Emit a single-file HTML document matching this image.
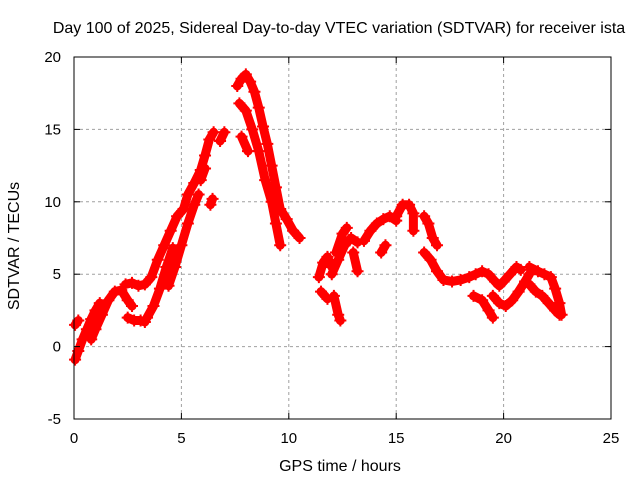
<!DOCTYPE html>
<html><head><meta charset="utf-8"><style>
body{margin:0;background:#fff}
svg{display:block;font-family:"Liberation Sans",sans-serif}
</style></head><body>
<svg id="chart" width="640" height="480">
<rect width="640" height="480" fill="#fff"/>
<text x="339" y="33" text-anchor="middle" font-size="16">Day 100 of 2025, Sidereal Day-to-day VTEC variation (SDTVAR) for receiver ista</text>
<text x="340" y="471" text-anchor="middle" font-size="16">GPS time / hours</text>
<text transform="translate(19,246) rotate(-90)" text-anchor="middle" font-size="16">SDTVAR / TECUs</text>
<g id="grid"></g><g id="marks"></g>
<rect x="74" y="57" width="537" height="362" fill="none" stroke="#000" stroke-width="1"/>
<g id="ticks"></g>
</svg>
<script>
const xTicks=[0,5,10,15,20,25];
const yTicks=[-5,0,5,10,15,20];
const tracks=[
[[0.05,-0.9],[0.2,-0.3],[0.4,0.5],[0.6,1.2],[0.8,1.9],[1.0,2.5],[1.2,3.0]],
[[0.05,1.5],[0.2,1.8]],
[[0.8,0.5],[1.0,1.2],[1.3,2.2],[1.6,3.2],[1.9,3.8],[2.2,3.9],[2.5,3.2],[2.7,2.8]],
[[2.4,4.3],[2.7,4.4],[3.0,4.2],[3.3,4.3],[3.6,4.8],[3.9,6.0],[4.2,7.0],[4.5,8.0],[4.8,9.0],[5.1,9.5],[5.3,10.5],[5.6,11.3],[5.9,12.2],[6.1,13.2],[6.3,14.3],[6.5,14.8]],
[[6.8,14.2],[7.0,14.8]],
[[2.5,2.0],[2.8,1.8],[3.1,1.8],[3.3,1.7]],
[[3.4,2.0],[3.7,2.8],[4.0,4.0],[4.3,5.5],[4.6,6.8]],
[[4.4,4.2],[4.7,5.5],[5.0,7.0],[5.3,8.5],[5.6,9.8],[5.8,10.5]],
[[5.9,11.5],[6.1,12.3]],
[[6.35,9.8],[6.45,10.2]],
[[7.6,18.0],[7.8,18.5],[8.0,18.8],[8.2,18.3],[8.4,17.6],[8.6,16.5],[8.8,15.2],[9.0,14.0],[9.2,12.5],[9.4,11.0],[9.6,9.5],[9.9,8.8],[10.2,8.0],[10.5,7.5]],
[[7.7,16.8],[8.0,16.3],[8.3,15.0],[8.6,13.5],[8.9,11.5],[9.2,10.0],[9.4,8.5],[9.6,7.0]],
[[7.8,14.5],[8.1,13.5]],
[[11.4,4.8],[11.6,5.8],[11.8,6.2],[12.0,5.5]],
[[11.5,3.8],[11.8,3.3]],
[[12.1,3.5],[12.3,2.2],[12.4,1.8]],
[[12.0,5.0],[12.3,6.0],[12.6,7.0],[12.9,7.5],[13.2,7.2]],
[[12.2,6.5],[12.5,7.8],[12.7,8.2]],
[[13.0,6.5],[13.2,5.2]],
[[13.5,7.3],[13.8,8.0],[14.1,8.5],[14.4,8.8],[14.7,9.0],[15.0,8.7]],
[[14.3,6.5],[14.5,7.0]],
[[15.0,9.0],[15.3,9.8],[15.6,9.8],[15.8,9.2],[15.8,8.0]],
[[16.3,9.0],[16.5,8.5],[16.7,7.5],[16.9,7.0]],
[[16.3,6.5],[16.6,6.0],[16.9,5.2],[17.2,4.6],[17.6,4.5],[18.0,4.6],[18.4,4.8],[18.7,5.0],[19.0,5.2],[19.3,5.0],[19.6,4.5],[19.8,4.2],[20.0,4.5],[20.3,5.0],[20.6,5.5],[20.8,5.3]],
[[18.6,3.5],[19.0,3.2],[19.3,2.5],[19.5,2.0]],
[[19.5,3.5],[19.8,3.0],[20.1,2.8],[20.4,3.2],[20.7,3.8],[21.0,4.5],[21.2,5.0]],
[[21.2,5.5],[21.6,5.2],[21.9,5.0],[22.2,4.8],[22.4,4.0],[22.6,3.0],[22.7,2.2]],
[[21.2,4.3],[21.5,3.8],[21.8,3.5],[22.1,3.0],[22.4,2.5],[22.6,2.2]]
];
const X0=74,X1=611,Y0=419,Y1=57;
const xs=v=>X0+(v-0)/25*(X1-X0);
const ys=v=>Y0-(v+5)/25*(Y0-Y1);
const NS='http://www.w3.org/2000/svg';
const grid=document.getElementById('grid'),ticks=document.getElementById('ticks'),marks=document.getElementById('marks');
function mk(tag,attrs,parent){const e=document.createElementNS(NS,tag);for(const k in attrs)e.setAttribute(k,attrs[k]);parent.appendChild(e);return e;}
xTicks.forEach(t=>{const x=xs(t);
 if(t>0&&t<25){const g=mk('line',{x1:x,x2:x,y1:Y0,y2:Y1,stroke:'#a0a0a0','stroke-dasharray':'3,3'},grid);
 
 }
 mk('line',{x1:x,x2:x,y1:Y0,y2:Y0-6,stroke:'#000'},ticks);mk('line',{x1:x,x2:x,y1:Y1,y2:Y1+6,stroke:'#000'},ticks);
 const l=mk('text',{x:x,y:443,'text-anchor':'middle','font-size':15},ticks);l.textContent=t;
 
 });
yTicks.forEach(t=>{const y=ys(t);
 if(t>-5&&t<20){const g=mk('line',{x1:X0,x2:X1,y1:y,y2:y,stroke:'#a0a0a0','stroke-dasharray':'3,3'},grid);
 
 }
 mk('line',{x1:X0,x2:X0+6,y1:y,y2:y,stroke:'#000'},ticks);mk('line',{x1:X1,x2:X1-6,y1:y,y2:y,stroke:'#000'},ticks);
 const l=mk('text',{x:61,y:y+5,'text-anchor':'end','font-size':15},ticks);l.textContent=t;
 
 });
tracks.forEach(tr=>{
 const p=mk('polyline',{points:tr.map(d=>xs(d[0])+','+ys(d[1])).join(' '),fill:'none',stroke:'#f00','stroke-width':9,'stroke-linejoin':'round','stroke-linecap':'round'},marks);
 
 
 tr.forEach(d=>{const x=xs(d[0]),y=ys(d[1]);
  const m=mk('path',{d:`M${x-6},${y}H${x+6}M${x},${y-6}V${y+6}`,stroke:'#f00','stroke-width':2},marks);
  
  });
});
</script>
</body></html>
